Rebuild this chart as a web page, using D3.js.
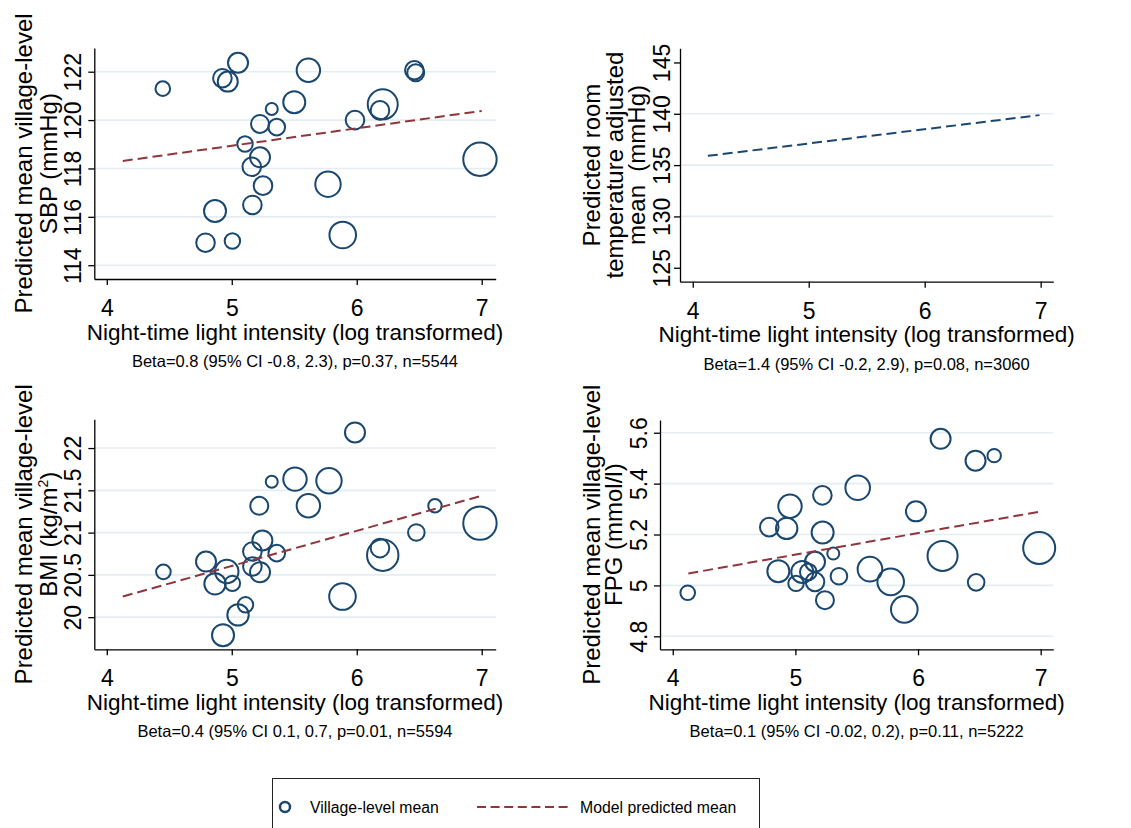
<!DOCTYPE html>
<html>

<head>
    <title>Night-time light panels</title>
    <script src="https://cdn.jsdelivr.net/npm/d3@7"></script>
    <style>
        body { margin: 0; background: #fff; }
        text { font-family: "Liberation Sans", Arial, sans-serif; fill: #000; }
    </style>
</head>

<body>
    <svg></svg>
    <script>
        const width = 1131;
        const height = 828;

        // shared x ticks
        const xTicks = [4, 5, 6, 7];
        const xTitle = "Night-time light intensity (log transformed)";

        // SBP panel
        const sbpLight = [4.448, 5.05, 4.925, 4.968, 5.613, 6.461, 6.472, 5.5, 6.208, 6.186, 5.986, 5.32, 5.226, 5.36, 5.106, 5.226, 5.16, 5.25, 5.77, 5.165, 4.866, 4.79, 5.005, 5.888, 6.986];
        const sbpMean = [121.3, 122.37, 121.73, 121.59, 122.06, 122.06, 121.96, 120.74, 120.65, 120.4, 120.0, 120.46, 119.84, 119.71, 119.01, 118.46, 118.07, 117.29, 117.35, 116.49, 116.24, 114.93, 115.0, 115.25, 118.38];
        const sbpN = [107, 200, 173, 200, 274, 173, 144, 242, 450, 173, 173, 72, 162, 138, 119, 200, 173, 173, 323, 173, 242, 173, 119, 354, 558];
        const sbpFitX = [4.128, 7.0];
        const sbpFitY = [118.31, 120.38];
        const sbpTicks = [114, 116, 118, 120, 122];
        const sbpNote = "Beta=0.8 (95% CI -0.8, 2.3), p=0.37, n=5544";

        // room temperature adjusted panel (model line only)
        const roomFitX = [4.13, 6.99];
        const roomFitY = [135.9, 139.87];
        const roomTicks = [125, 130, 135, 140, 145];
        const roomGrid = [130, 135, 140];
        const roomNote = "Beta=1.4 (95% CI -0.2, 2.9), p=0.08, n=3060";

        // BMI panel
        const bmiLight = [4.453, 4.794, 4.866, 4.96, 5.005, 4.93, 5.05, 5.11, 5.165, 5.165, 5.226, 5.245, 5.36, 5.22, 5.32, 5.506, 5.613, 5.778, 5.986, 5.886, 6.186, 6.208, 6.477, 6.626, 6.986];
        const bmiMean = [20.536, 20.658, 20.394, 20.54, 20.40, 19.787, 20.027, 20.146, 20.777, 20.60, 20.532, 20.907, 20.757, 21.317, 21.601, 21.633, 21.317, 21.613, 22.185, 20.244, 20.817, 20.733, 21.001, 21.317, 21.112];
        const bmiN = [107, 200, 229, 274, 119, 242, 229, 119, 173, 173, 200, 200, 138, 162, 72, 274, 274, 323, 200, 354, 173, 493, 138, 90, 558];
        const bmiFitX = [4.128, 7.0];
        const bmiFitY = [20.244, 21.436];
        const bmiTicks = [20, 20.5, 21, 21.5, 22];
        const bmiNote = "Beta=0.4 (95% CI 0.1, 0.7, p=0.01, n=5594";

        // FPG panel
        const fpgLight = [4.122, 4.787, 4.929, 4.956, 4.861, 5.005, 5.056, 5.105, 5.16, 5.16, 5.22, 5.222, 5.241, 5.309, 5.355, 5.508, 5.608, 5.777, 5.888, 5.983, 6.184, 6.2, 6.469, 6.621, 6.474, 6.988];
        const fpgMean = [4.971, 5.229, 5.224, 5.311, 5.056, 5.008, 5.053, 5.053, 5.093, 5.014, 5.354, 5.208, 4.942, 5.125, 5.036, 5.384, 5.064, 5.014, 4.906, 5.291, 5.576, 5.116, 5.49, 5.51, 5.012, 5.147];
        const fpgN = [107, 173, 229, 274, 242, 119, 242, 138, 200, 173, 173, 242, 162, 72, 138, 303, 303, 354, 354, 200, 200, 450, 200, 90, 138, 512];
        const fpgFitX = [4.127, 6.985];
        const fpgFitY = [5.047, 5.289];
        const fpgTicks = [4.8, 5, 5.2, 5.4, 5.6];
        const fpgNote = "Beta=0.1 (95% CI -0.02, 0.2), p=0.11, n=5222";

        const navy = "#1a476f";
        const maroon = "#90353b";
        const gridColor = "#e4edf1";

        let svg = d3.select("svg")
            .attr("width", width)
            .attr("height", height);

        // circle size from village sample size
        let rScale = d3.scaleSqrt()
            .domain([0, 800])
            .range([0, 20]);

        let panels = [
            {
                left: 94.3, right: 495.7, top: 48, bottom: 279,
                xDomain: [3.9, 7.112], yDomain: [113.43, 122.98],
                yTicks: sbpTicks, grid: sbpTicks, tickOff: -13,
                yTitle: ["Predicted mean village-level", "SBP (mmHg)"], titleX: [-62.5, -37.5],
                x: sbpLight, y: sbpMean, n: sbpN,
                fitX: sbpFitX, fitY: sbpFitY, fitColor: maroon, note: sbpNote
            },
            {
                left: 680, right: 1053.3, top: 48.3, bottom: 281.7,
                xDomain: [3.89, 7.109], yDomain: [123.64, 146.38],
                yTicks: roomTicks, grid: roomGrid, tickOff: -10,
                yTitle: ["Predicted room", "temperature adjusted", "mean  (mmHg)"], titleX: [-80, -57, -35],
                x: [], y: [], n: [],
                fitX: roomFitX, fitY: roomFitY, fitColor: navy, note: roomNote
            },
            {
                left: 94.3, right: 495.7, top: 419.3, bottom: 649.3,
                xDomain: [3.9, 7.112], yDomain: [19.62, 22.34],
                yTicks: bmiTicks, grid: bmiTicks, tickOff: -13,
                yTitle: ["Predicted mean village-level", "BMI (kg/m|2|)"], titleX: [-62.5, -37.5],
                x: bmiLight, y: bmiMean, n: bmiN,
                fitX: bmiFitX, fitY: bmiFitY, fitColor: maroon, note: bmiNote
            },
            {
                left: 660, right: 1053.3, top: 420, bottom: 649.3,
                xDomain: [3.896, 7.103], yDomain: [4.749, 5.65],
                yTicks: fpgTicks, grid: fpgTicks, tickOff: -13,
                yTitle: ["Predicted mean village-level", "FPG (mmol/l)"], titleX: [-60, -38],
                x: fpgLight, y: fpgMean, n: fpgN,
                fitX: fpgFitX, fitY: fpgFitY, fitColor: maroon, note: fpgNote
            }
        ];

        panels.forEach((p) => {
            let g = svg.append("g");

            let xScale = d3.scaleLinear()
                .domain(p.xDomain)
                .range([p.left, p.right]);
            let yScale = d3.scaleLinear()
                .domain(p.yDomain)
                .range([p.bottom, p.top]);

            // grid lines
            g.selectAll(".grid")
                .data(p.grid)
                .enter()
                .append("line")
                .attr("x1", p.left)
                .attr("x2", p.right)
                .attr("y1", (d) => yScale(d))
                .attr("y2", (d) => yScale(d))
                .attr("stroke", gridColor)
                .attr("stroke-width", 1.6);

            // village means
            let pts = p.x.map((d, i) => ({ x: d, y: p.y[i], n: p.n[i] }));
            g.selectAll("circle")
                .data(pts)
                .enter()
                .append("circle")
                .attr("cx", (d) => xScale(d.x))
                .attr("cy", (d) => yScale(d.y))
                .attr("r", (d) => rScale(d.n))
                .attr("fill", "none")
                .attr("stroke", navy)
                .attr("stroke-width", 2);

            // model line
            let linePath = d3.line()
                .x((d) => xScale(d[0]))
                .y((d) => yScale(d[1]));
            g.append("path")
                .attr("d", linePath(d3.zip(p.fitX, p.fitY)))
                .attr("fill", "none")
                .attr("stroke", p.fitColor)
                .attr("stroke-width", 2)
                .attr("stroke-dasharray", "10,5");

            // x axis
            let xAxis = d3.axisBottom(xScale)
                .tickValues(xTicks)
                .tickSizeInner(6)
                .tickSizeOuter(0)
                .tickFormat((d) => d);
            let gx = g.append("g")
                .attr("transform", "translate(0," + p.bottom + ")")
                .call(xAxis);
            gx.selectAll("text")
                .attr("y", 37)
                .attr("dy", 0)
                .style("font-size", "23px");

            // y axis
            let yAxis = d3.axisLeft(yScale)
                .tickValues(p.yTicks)
                .tickSizeInner(6)
                .tickSizeOuter(0)
                .tickFormat((d) => d);
            let gy = g.append("g")
                .attr("transform", "translate(" + p.left + ",0)")
                .call(yAxis);
            gy.selectAll("text")
                .attr("x", 0)
                .attr("dy", 0)
                .attr("text-anchor", "middle")
                .attr("transform", "translate(" + p.tickOff + ",0) rotate(-90)")
                .style("font-size", "23px");

            g.selectAll(".domain, .tick line")
                .attr("stroke", "#000")
                .attr("stroke-width", 1.3);

            // axis titles
            let cx = (p.left + p.right) / 2;
            g.append("text")
                .attr("x", cx)
                .attr("y", p.bottom + 60.5)
                .attr("text-anchor", "middle")
                .style("font-size", "22.5px")
                .text(xTitle);

            g.append("text")
                .attr("x", cx)
                .attr("y", p.bottom + 88)
                .attr("text-anchor", "middle")
                .style("font-size", "16.5px")
                .text(p.note);

            let cy = (p.top + p.bottom) / 2;
            p.yTitle.forEach((line, i) => {
                let t = g.append("text")
                    .attr("transform", "translate(" + (p.left + p.titleX[i]) + "," + cy + ") rotate(-90)")
                    .attr("text-anchor", "middle")
                    .style("font-size", "24px")
                    .style("white-space", "pre");
                let parts = line.split("|");
                t.append("tspan").text(parts[0]);
                if (parts.length > 1) {
                    t.append("tspan")
                        .attr("dy", -9)
                        .style("font-size", "14px")
                        .text(parts[1]);
                    t.append("tspan")
                        .attr("dy", 9)
                        .text(parts[2]);
                }
            });
        });

        // legend
        let legend = svg.append("g");
        legend.append("rect")
            .attr("x", 272.5)
            .attr("y", 778.5)
            .attr("width", 487)
            .attr("height", 70)
            .attr("fill", "#fff")
            .attr("stroke", "#222")
            .attr("stroke-width", 1);
        legend.append("circle")
            .attr("cx", 285)
            .attr("cy", 807)
            .attr("r", 5)
            .attr("fill", "none")
            .attr("stroke", navy)
            .attr("stroke-width", 2.5);
        legend.append("text")
            .attr("x", 310)
            .attr("y", 812.5)
            .style("font-size", "15.8px")
            .text("Village-level mean");
        legend.append("line")
            .attr("x1", 477)
            .attr("x2", 572)
            .attr("y1", 807)
            .attr("y2", 807)
            .attr("stroke", maroon)
            .attr("stroke-width", 2)
            .attr("stroke-dasharray", "9,4.6");
        legend.append("text")
            .attr("x", 580)
            .attr("y", 812.5)
            .style("font-size", "15.8px")
            .text("Model predicted mean");
    </script>
</body>

</html>
